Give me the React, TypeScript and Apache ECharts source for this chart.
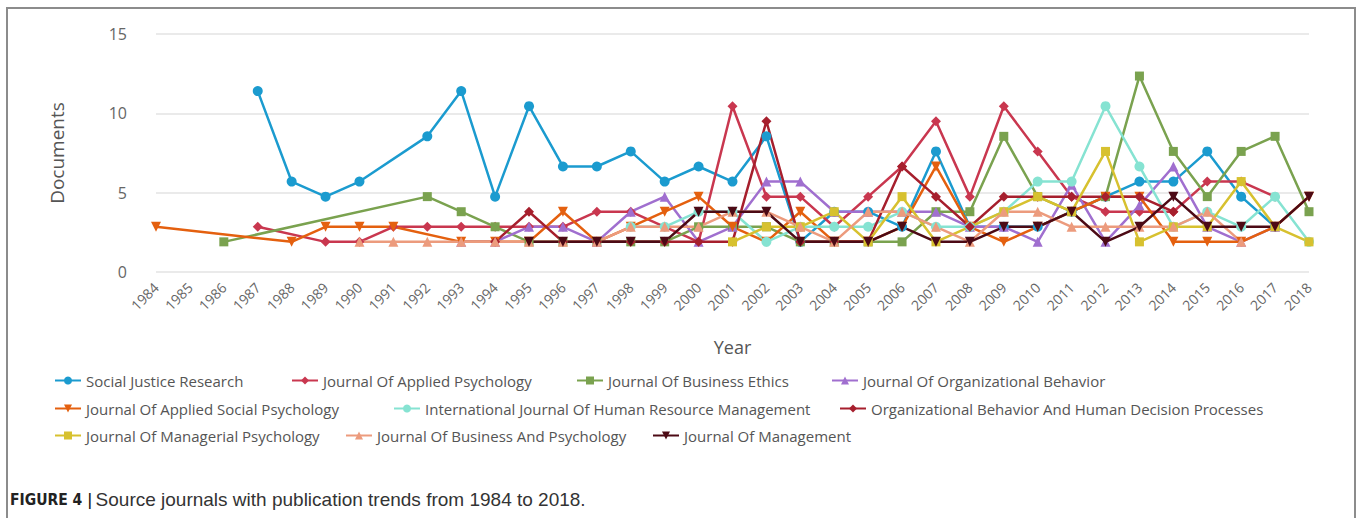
import React, { useEffect, useRef } from "react";
import * as echarts from "echarts";

const years = [
  "1984", "1985", "1986", "1987", "1988", "1989", "1990", "1991", "1992", "1993",
  "1994", "1995", "1996", "1997", "1998", "1999", "2000", "2001", "2002", "2003",
  "2004", "2005", "2006", "2007", "2008", "2009", "2010", "2011", "2012", "2013",
  "2014", "2015", "2016", "2017", "2018",
];

const yTicks = [0, 5, 10, 15];

const socialJusticeResearch = [null, null, null, 11.4, 5.7, 4.75, 5.7, null, 8.55, 11.4, 4.75, 10.45, 6.65, 6.65, 7.6, 5.7, 6.65, 5.7, 8.55, 1.9, 3.8, 3.8, 2.85, 7.6, 2.85, 2.85, 2.85, 3.8, 4.75, 5.7, 5.7, 7.6, 4.75, 2.85, null];
const journalOfAppliedPsychology = [null, null, null, 2.85, null, 1.9, 1.9, 2.85, 2.85, 2.85, 2.85, 2.85, 2.85, 3.8, 3.8, 2.85, 1.9, 10.45, 4.75, 4.75, 2.85, 4.75, 6.65, 9.5, 4.75, 10.45, 7.6, 4.75, 3.8, 3.8, 3.8, 5.7, 5.7, 4.75, null];
const journalOfBusinessEthics = [null, null, 1.9, null, null, null, null, null, 4.75, 3.8, 2.85, 1.9, 1.9, 1.9, 1.9, 1.9, 2.85, 2.85, 2.85, 1.9, 1.9, 1.9, 1.9, 3.8, 3.8, 8.55, 4.75, 3.8, 4.75, 12.35, 7.6, 4.75, 7.6, 8.55, 3.8];
const journalOfOrganizationalBehavior = [null, null, null, null, null, null, null, null, null, 1.9, 1.9, 2.85, 2.85, 1.9, 3.8, 4.75, 1.9, 2.85, 5.7, 5.7, 3.8, 3.8, 3.8, 3.8, 2.85, 2.85, 1.9, 5.5, 1.9, 4.2, 6.65, 2.85, 1.9, 2.85, null];
const journalOfAppliedSocialPsychology = [2.85, null, null, null, 1.9, 2.85, 2.85, 2.85, null, 1.9, 1.9, 1.9, 3.8, 1.9, 2.85, 3.8, 4.75, 2.85, 1.9, 3.8, 1.9, 1.9, 2.85, 6.65, 2.85, 1.9, 2.85, 3.8, 4.75, 4.75, 1.9, 1.9, 1.9, 2.85, 4.75];
const intlJournalOfHRM = [null, null, null, null, null, null, null, null, null, null, null, null, null, null, 2.85, 2.85, 3.8, 3.8, 1.9, 2.85, 2.85, 2.85, 3.8, 2.85, 2.85, 3.8, 5.7, 5.7, 10.45, 6.65, 2.85, 3.8, 2.85, 4.75, 1.9];
const orgBehaviorHumanDecision = [null, null, null, null, null, null, null, null, null, null, 1.9, 3.8, 1.9, 1.9, 1.9, 1.9, 1.9, 1.9, 9.5, 1.9, 1.9, 1.9, 6.65, 4.75, 2.85, 4.75, 4.75, 4.75, 4.75, 4.75, 3.8, null, null, null, null];
const journalOfManagerialPsychology = [null, null, null, null, null, null, null, null, null, null, null, null, null, null, null, null, null, 1.9, 2.85, 2.85, 3.8, 1.9, 4.75, 1.9, null, 3.8, 4.75, 3.8, 7.6, 1.9, 2.85, 2.85, 5.7, 2.85, 1.9];
const journalOfBusinessAndPsychology = [null, null, null, null, null, null, 1.9, 1.9, 1.9, 1.9, 1.9, 1.9, 1.9, 1.9, 2.85, 2.85, 2.85, 3.8, 3.8, 2.85, 1.9, 3.8, 3.8, 2.85, 1.9, 3.8, 3.8, 2.85, 2.85, 2.85, 2.85, 3.8, 1.9, null, null];
const journalOfManagement = [null, null, null, null, null, null, null, null, null, null, null, 1.9, 1.9, 1.9, 1.9, 1.9, 3.8, 3.8, 3.8, 1.9, 1.9, 1.9, 2.85, 1.9, 1.9, 2.85, 2.85, 3.8, 1.9, 2.85, 4.75, 2.85, 2.85, 2.85, 4.75];

const seriesNames = [
  "Social Justice Research",
  "Journal Of Applied Psychology",
  "Journal Of Business Ethics",
  "Journal Of Organizational Behavior",
  "Journal Of Applied Social Psychology",
  "International Journal Of Human Resource Management",
  "Organizational Behavior And Human Decision Processes",
  "Journal Of Managerial Psychology",
  "Journal Of Business And Psychology",
  "Journal Of Management",
];
const seriesValues = [
  socialJusticeResearch,
  journalOfAppliedPsychology,
  journalOfBusinessEthics,
  journalOfOrganizationalBehavior,
  journalOfAppliedSocialPsychology,
  intlJournalOfHRM,
  orgBehaviorHumanDecision,
  journalOfManagerialPsychology,
  journalOfBusinessAndPsychology,
  journalOfManagement,
];

const DOWN = "path://M0,0 L10,0 L5,9 Z";
const colors = ["#1b9bcf", "#c9374f", "#7aa24f", "#a06fcf", "#e4600f", "#86e3d2", "#a61f2d", "#d7c12f", "#ec9b7d", "#4c0a15"];
const symbols = ["circle", "diamond", "rect", "triangle", DOWN, "circle", "diamond", "rect", "triangle", DOWN];
const symbolSizes = [10, 10, 9, 10, 10, 10, 10, 9, 10, 10];

// legend layout: [left, top]
const legendPos = [
  [54, 373], [291, 373], [576, 373], [831, 373],
  [54, 401], [393, 401], [839, 401],
  [54, 428], [345, 428], [652, 428],
];

const FONT = "'Open Sans', 'Noto Sans', sans-serif";

export default function App() {
  const ref = useRef<HTMLDivElement>(null);
  useEffect(() => {
    if (!ref.current) return;
    const chart = echarts.init(ref.current, undefined, { renderer: "svg" });
    chart.setOption({
      animation: false,
      backgroundColor: "#ffffff",
      textStyle: { fontFamily: FONT },
      grid: { left: 156, right: 51, top: 34, bottom: 246, containLabel: false },
      legend: seriesNames.map((n, i) => ({
        data: [n],
        left: legendPos[i][0],
        top: legendPos[i][1],
        padding: 0,
        itemWidth: 26,
        itemHeight: 10,
        itemGap: 0,
        textStyle: { color: "#555", fontSize: 15, fontFamily: FONT },
      })),
      xAxis: {
        type: "category",
        data: years,
        boundaryGap: false,
        axisLine: { show: false },
        axisTick: { show: false },
        splitLine: { show: false },
        axisLabel: { rotate: 45, interval: 0, color: "#666", fontSize: 14, margin: 13, fontFamily: FONT },
        name: "Year",
        nameLocation: "middle",
        nameGap: 66,
        nameTextStyle: { color: "#555", fontSize: 18, fontFamily: FONT },
      },
      yAxis: {
        type: "value",
        min: yTicks[0],
        max: yTicks[yTicks.length - 1],
        interval: 5,
        axisLine: { show: false },
        axisTick: { show: false },
        splitLine: { lineStyle: { color: "#e3e3e3", width: 1.5 } },
        axisLabel: { color: "#666", fontSize: 16, margin: 29, fontFamily: FONT },
        name: "Documents",
        nameLocation: "middle",
        nameGap: 90,
        nameTextStyle: { color: "#555", fontSize: 19, fontFamily: FONT },
      },
      series: seriesNames.map((n, i) => ({
        name: n,
        type: "line",
        data: seriesValues[i],
        connectNulls: true,
        symbol: symbols[i],
        symbolSize: symbolSizes[i],
        showAllSymbol: true,
        color: colors[i],
        lineStyle: { width: 2.5, color: colors[i] },
        itemStyle: { color: colors[i] },
      })),
      graphic: [
        {
          type: "rect",
          shape: { x: 7, y: 8, width: 1348, height: 540 },
          style: { fill: "none", stroke: "#8c8c8c", lineWidth: 2 },
          silent: true,
        },
        {
          type: "text",
          left: 10,
          top: 490,
          style: {
            text: "{b|FIGURE 4 |} {r|Source journals with publication trends from 1984 to 2018.}",
            rich: {
              b: { fontFamily: "'DejaVu Sans Condensed', 'Liberation Sans Narrow', 'Liberation Sans', sans-serif", fontWeight: "bold", fontSize: 15.5, fill: "#222" },
              r: { fontFamily: "'Liberation Sans', Arial, sans-serif", fontSize: 19, fill: "#333" },
            },
          },
        },
      ],
    });
    return () => chart.dispose();
  }, []);
  return <div ref={ref} style={{ position: "absolute", left: 0, top: 0, width: 1360, height: 518 }} />;
}
